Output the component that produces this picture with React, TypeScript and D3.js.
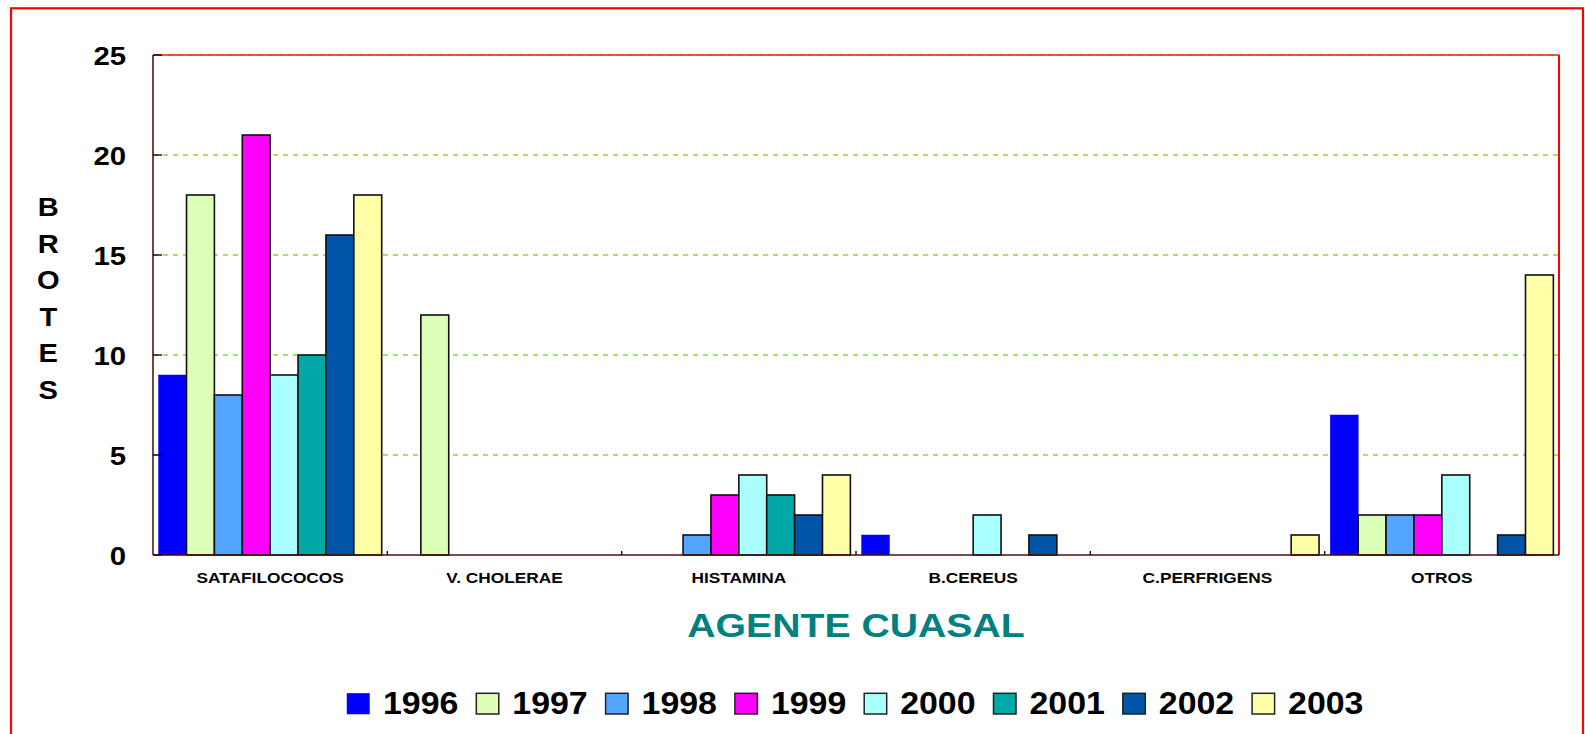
import React from "react";
import * as d3 from "d3";

const categories = ["SATAFILOCOCOS", "V. CHOLERAE", "HISTAMINA", "B.CEREUS", "C.PERFRIGENS", "OTROS"];
const years = ["1996", "1997", "1998", "1999", "2000", "2001", "2002", "2003"];
const v1996 = [9, 0, 0, 1, 0, 7];
const v1997 = [18, 12, 0, 0, 0, 2];
const v1998 = [8, 0, 1, 0, 0, 2];
const v1999 = [21, 0, 3, 0, 0, 2];
const v2000 = [9, 0, 4, 2, 0, 4];
const v2001 = [10, 0, 3, 0, 0, 0];
const v2002 = [16, 0, 2, 1, 0, 1];
const v2003 = [18, 0, 4, 0, 1, 14];
const seriesValues = [v1996, v1997, v1998, v1999, v2000, v2001, v2002, v2003];
const colors = ["#0000FF", "#DCFFB8", "#52A6FF", "#FF00FF", "#AAFFFF", "#00A8A8", "#0055A8", "#FFFFA8"];
const yTicks = [0, 5, 10, 15, 20, 25];
const yTitle = "BROTES";
const xTitle = "AGENTE CUASAL";

const W = 1585;
const H = 734;
const PL = 153, PR = 1559, PT = 55, PB = 555;
const FONT = "'Liberation Sans', Arial, Helvetica, sans-serif";

export default function App() {
  const x0 = d3.scaleBand<string>().domain(categories).range([PL, PR]).padding(0);
  const bw = x0.bandwidth();
  const inset = bw * 0.024;
  const x1 = d3.scaleBand<string>().domain(years).range([inset, bw - inset]).padding(0);
  const y = d3.scaleLinear().domain([0, 25]).range([PB, PT]);

  const legendStart = 347;
  const legendStep = 129.3;

  return (
    <svg width={W} height={H} style={{ position: "absolute", left: 0, top: 0 }} fontFamily={FONT}>
      <rect x={0} y={0} width={W} height={H} fill="#fff" />
      <rect x={11} y={8.3} width={1572} height={760} fill="none" stroke="#FF0000" strokeWidth={2.2} />

      {/* gridlines */}
      {yTicks.filter((t) => t > 0).map((t) => (
        <line key={"g" + t} x1={PL} x2={PR} y1={y(t)} y2={y(t)} stroke={t === 25 ? "#FF0000" : "#9EEA55"}
          strokeWidth={t === 25 ? 1.5 : 2} strokeDasharray={t === 25 ? undefined : "5,5"} />
      ))}
      <line x1={PL} x2={PR} y1={y(25)} y2={y(25)} stroke="#9A9A20" strokeWidth={1.2} strokeDasharray="5,5" />
      <line x1={PR} x2={PR} y1={PT} y2={PB} stroke="#FF0000" strokeWidth={2} />

      {/* bars */}
      {seriesValues.map((vals, si) =>
        vals.map((v, ci) =>
          v > 0 ? (
            <rect key={si + "-" + ci}
              x={(x0(categories[ci]) as number) + (x1(years[si]) as number)}
              y={y(v)} width={x1.bandwidth()} height={y(0) - y(v)}
              fill={colors[si]} stroke={si === 0 ? "#0000FF" : "#111"} strokeWidth={si === 0 ? 0.5 : 1.6} />
          ) : null
        )
      )}

      {/* axes */}
      <line x1={PL} x2={PL} y1={PT} y2={PB} stroke="#3A0A0A" strokeWidth={1.5} />
      <line x1={PL} x2={PR} y1={PB} y2={PB} stroke="#4A1010" strokeWidth={1.5} />
      {yTicks.map((t) => (
        <g key={"yt" + t}>
          <line x1={PL} x2={PL + 9} y1={y(t)} y2={y(t)} stroke="#1A0000" strokeWidth={1.4} />
          <text transform={`translate(${126},${y(t) + 9.5}) scale(1.15,1)`} textAnchor="end"
            fontSize={25.5} fontWeight="bold" fill="#000">{t}</text>
        </g>
      ))}
      {categories.map((c, i) => (
        <g key={"xt" + c}>
          {i > 0 && <line x1={x0(c)} x2={x0(c)} y1={PB} y2={PB - 4} stroke="#1A0000" strokeWidth={1.4} />}
          <text transform={`translate(${(x0(c) as number) + bw / 2},${583.3}) scale(1.17,1)`} textAnchor="middle"
            fontSize={14.8} fontWeight="bold" fill="#000">{c}</text>
        </g>
      ))}

      {/* y title stacked */}
      {yTitle.split("").map((ch, i) => (
        <text key={"yl" + i} transform={`translate(48.3,${216 + i * 36.5}) scale(1.12,1)`} textAnchor="middle"
          fontSize={26} fontWeight="bold" fill="#000">{ch}</text>
      ))}

      {/* x title */}
      <text transform={`translate(${(PL + PR) / 2},${636.7}) scale(1.17,1)`} textAnchor="middle"
        fontSize={33.5} fontWeight="bold" fill="#008080">{xTitle}</text>

      {/* legend */}
      {years.map((yr, i) => {
        const lx = legendStart + i * legendStep;
        return (
          <g key={"lg" + yr}>
            <rect x={lx} y={693.3} width={22.5} height={20.7} fill={colors[i]}
              stroke={i === 0 ? "#0000FF" : "#222"} strokeWidth={i === 0 ? 0.5 : 1.5} />
            <text transform={`translate(${lx + 36},${714}) scale(1.1,1)`} fontSize={30.8} fontWeight="bold" fill="#000">{yr}</text>
          </g>
        );
      })}
    </svg>
  );
}
